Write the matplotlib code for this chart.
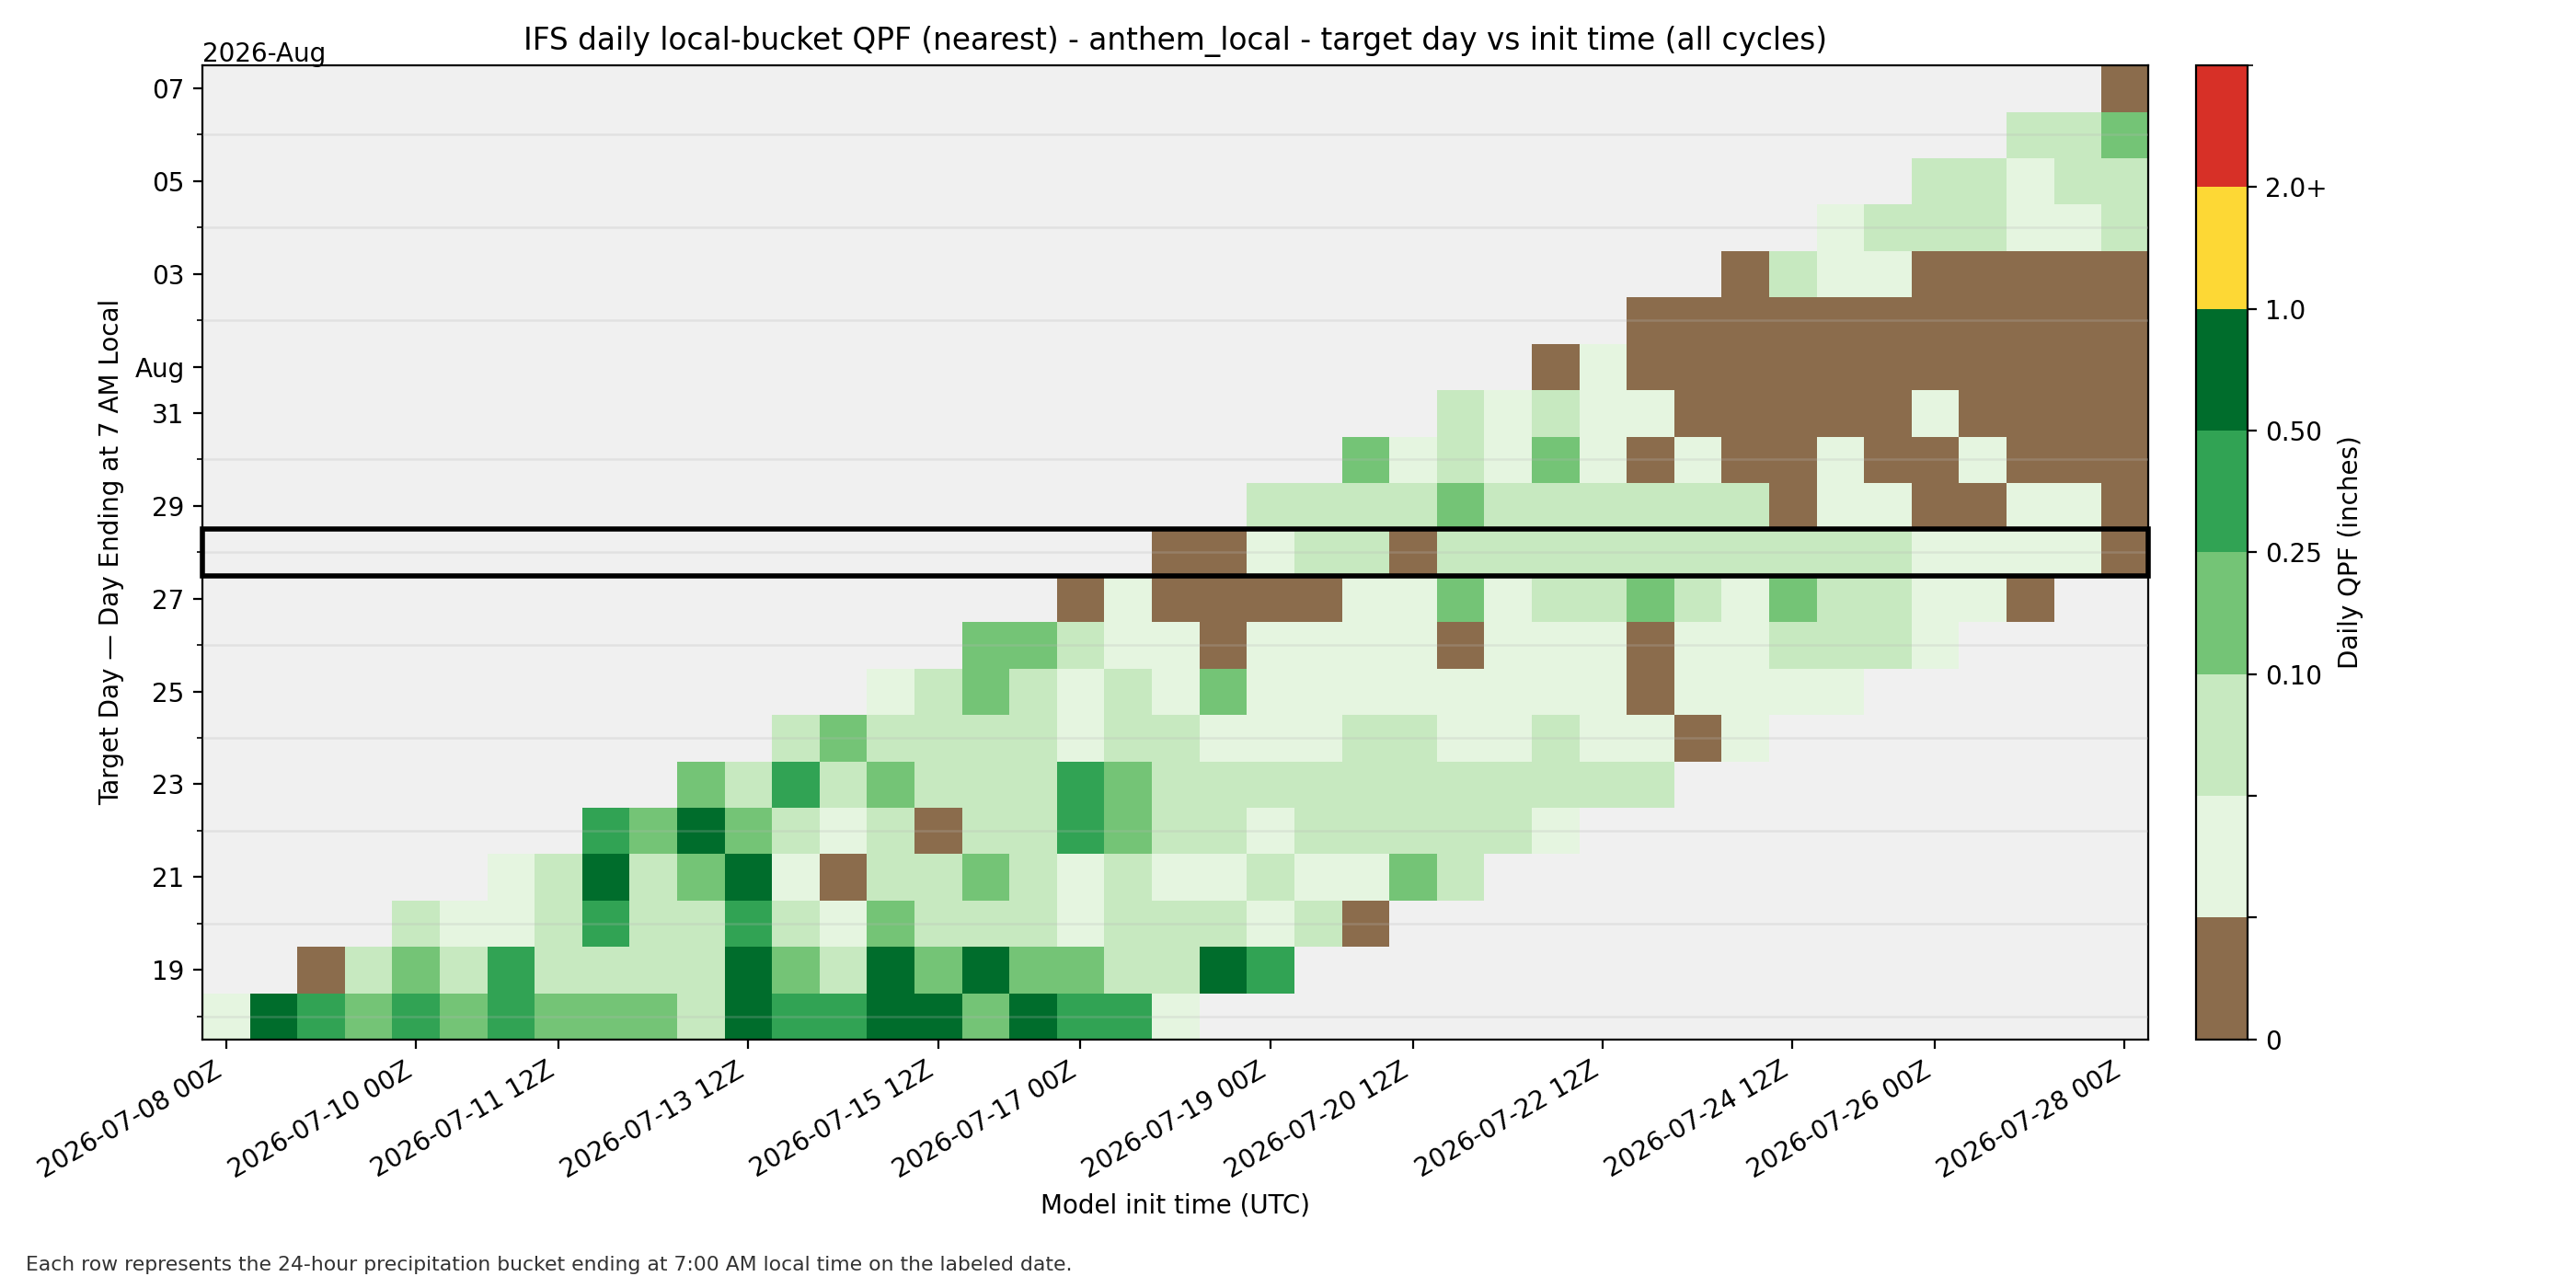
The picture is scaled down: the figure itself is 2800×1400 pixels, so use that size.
import numpy as np
import pandas as pd
import matplotlib
matplotlib.use("Agg")
import matplotlib.pyplot as plt
from matplotlib.colors import ListedColormap, BoundaryNorm
from matplotlib.patches import Rectangle

# model init cycles (12h apart) and target days
init_times = pd.date_range("2026-07-08 00:00", "2026-07-28 00:00", freq="12h")
target_days = pd.date_range("2026-07-18", "2026-08-07", freq="D")

# daily QPF (inches) per target day: first init column with data, then values
row_start = [0, 2, 4, 6, 8, 10, 12, 14, 16, 18, 20, 22, 24, 26, 28, 30, 32, 34, 36, 38, 40]
row_vals = [
    [0.03, 0.7, 0.35, 0.18, 0.35, 0.18, 0.35, 0.18, 0.18, 0.18, 0.07, 0.7, 0.35, 0.35, 0.7, 0.7, 0.18, 0.7, 0.35, 0.35, 0.03],
    [0.0, 0.07, 0.18, 0.07, 0.35, 0.07, 0.07, 0.07, 0.07, 0.7, 0.18, 0.07, 0.7, 0.18, 0.7, 0.18, 0.18, 0.07, 0.07, 0.7, 0.35],
    [0.07, 0.03, 0.03, 0.07, 0.35, 0.07, 0.07, 0.35, 0.07, 0.03, 0.18, 0.07, 0.07, 0.07, 0.03, 0.07, 0.07, 0.07, 0.03, 0.07, 0.0],
    [0.03, 0.07, 0.7, 0.07, 0.18, 0.7, 0.03, 0.0, 0.07, 0.07, 0.18, 0.07, 0.03, 0.07, 0.03, 0.03, 0.07, 0.03, 0.03, 0.18, 0.07],
    [0.35, 0.18, 0.7, 0.18, 0.07, 0.03, 0.07, 0.0, 0.07, 0.07, 0.35, 0.18, 0.07, 0.07, 0.03, 0.07, 0.07, 0.07, 0.07, 0.07, 0.03],
    [0.18, 0.07, 0.35, 0.07, 0.18, 0.07, 0.07, 0.07, 0.35, 0.18, 0.07, 0.07, 0.07, 0.07, 0.07, 0.07, 0.07, 0.07, 0.07, 0.07, 0.07],
    [0.07, 0.18, 0.07, 0.07, 0.07, 0.07, 0.03, 0.07, 0.07, 0.03, 0.03, 0.03, 0.07, 0.07, 0.03, 0.03, 0.07, 0.03, 0.03, 0.0, 0.03],
    [0.03, 0.07, 0.18, 0.07, 0.03, 0.07, 0.03, 0.18, 0.03, 0.03, 0.03, 0.03, 0.03, 0.03, 0.03, 0.03, 0.0, 0.03, 0.03, 0.03, 0.03],
    [0.18, 0.18, 0.07, 0.03, 0.03, 0.0, 0.03, 0.03, 0.03, 0.03, 0.0, 0.03, 0.03, 0.03, 0.0, 0.03, 0.03, 0.07, 0.07, 0.07, 0.03],
    [0.0, 0.03, 0.0, 0.0, 0.0, 0.0, 0.03, 0.03, 0.18, 0.03, 0.07, 0.07, 0.18, 0.07, 0.03, 0.18, 0.07, 0.07, 0.03, 0.03, 0.0],
    [0.0, 0.0, 0.03, 0.07, 0.07, 0.0, 0.07, 0.07, 0.07, 0.07, 0.07, 0.07, 0.07, 0.07, 0.07, 0.07, 0.03, 0.03, 0.03, 0.03, 0.0],
    [0.07, 0.07, 0.07, 0.07, 0.18, 0.07, 0.07, 0.07, 0.07, 0.07, 0.07, 0.0, 0.03, 0.03, 0.0, 0.0, 0.03, 0.03, 0.0],
    [0.18, 0.03, 0.07, 0.03, 0.18, 0.03, 0.0, 0.03, 0.0, 0.0, 0.03, 0.0, 0.0, 0.03, 0.0, 0.0, 0.0],
    [0.07, 0.03, 0.07, 0.03, 0.03, 0.0, 0.0, 0.0, 0.0, 0.0, 0.03, 0.0, 0.0, 0.0, 0.0],
    [0.0, 0.03, 0.0, 0.0, 0.0, 0.0, 0.0, 0.0, 0.0, 0.0, 0.0, 0.0, 0.0],
    [0.0, 0.0, 0.0, 0.0, 0.0, 0.0, 0.0, 0.0, 0.0, 0.0, 0.0],
    [0.0, 0.07, 0.03, 0.03, 0.0, 0.0, 0.0, 0.0, 0.0],
    [0.03, 0.07, 0.07, 0.07, 0.03, 0.03, 0.07],
    [0.07, 0.07, 0.03, 0.07, 0.07],
    [0.07, 0.07, 0.18],
    [0.0],
]

# colour bins
bounds = [0, 0.01, 0.05, 0.10, 0.25, 0.50, 1.0, 2.0, 3.0]
bin_colors = ["#8b6c4c", "#e5f5e0", "#c7e9c0", "#74c476", "#31a354", "#006d2c", "#fdd835", "#d73027"]
cbar_labels = ["0", "", "", "0.10", "0.25", "0.50", "1.0", "2.0+"]

# x ticks (index into init_times)
xtick_idx = [0, 4, 7, 11, 15, 18, 22, 25, 29, 33, 36, 40]
highlight_day = "2026-07-28"

# build grid
grid = np.full((len(target_days), len(init_times)), np.nan)
for r, (s, vals) in enumerate(zip(row_start, row_vals)):
    grid[r, s:s + len(vals)] = vals

cmap = ListedColormap(bin_colors)
cmap.set_bad("#f0f0f0")
norm = BoundaryNorm(bounds, cmap.N)

fig = plt.figure(figsize=(14, 7), dpi=200)
ax = fig.add_axes([0.0786, 0.193, 0.7554, 0.7564])
cax = fig.add_axes([0.8525, 0.193, 0.020, 0.7564])

ax.set_facecolor("#f0f0f0")
im = ax.imshow(np.ma.masked_invalid(grid), cmap=cmap, norm=norm, origin="lower",
               aspect="auto", interpolation="nearest",
               extent=(-0.5, len(init_times) - 0.5, -0.5, len(target_days) - 0.5))

# x axis
ax.set_xticks(xtick_idx)
ax.set_xticklabels([init_times[i].strftime("%Y-%m-%d %HZ") for i in xtick_idx],
                   rotation=30, ha="right", fontsize=10)
ax.set_xlabel("Model init time (UTC)", fontsize=10)

# y axis: odd days labelled, even days as minor ticks with grid
major = [i for i, d in enumerate(target_days) if d.day % 2 == 1]
minor = [i for i, d in enumerate(target_days) if d.day % 2 == 0]
ylabels = [("Aug" if target_days[i].day == 1 else target_days[i].strftime("%d")) for i in major]
ax.set_yticks(major)
ax.set_yticklabels(ylabels, fontsize=10)
ax.set_yticks(minor, minor=True)
ax.yaxis.grid(True, which="minor", color="#b8b8b8", alpha=0.25, linewidth=0.9)
ax.set_axisbelow(False)
ax.set_ylabel("Target Day \u2014 Day Ending at 7 AM Local", fontsize=10)
ax.text(0, 0.998, "2026-Aug", transform=ax.transAxes, ha="left", va="bottom", fontsize=10)

# highlighted row
hr = list(target_days.strftime("%Y-%m-%d")).index(highlight_day)
ax.add_patch(Rectangle((-0.5, hr - 0.5), len(init_times), 1, fill=False,
                       edgecolor="black", linewidth=2, clip_on=False, zorder=5))

ax.set_title("IFS daily local-bucket QPF (nearest) - anthem_local - target day vs init time (all cycles)",
             fontsize=11.8)

cb = fig.colorbar(im, cax=cax, boundaries=bounds, ticks=bounds[:-1], spacing="uniform")
cb.ax.set_yticklabels(cbar_labels, fontsize=10)
cb.set_label("Daily QPF (inches)", fontsize=10)

fig.text(0.01, 0.011, "Each row represents the 24-hour precipitation bucket ending at 7:00 AM local time on the labeled date.",
         fontsize=7.9, color="#333333", ha="left", va="bottom")

fig.savefig("out.png", dpi=200)
